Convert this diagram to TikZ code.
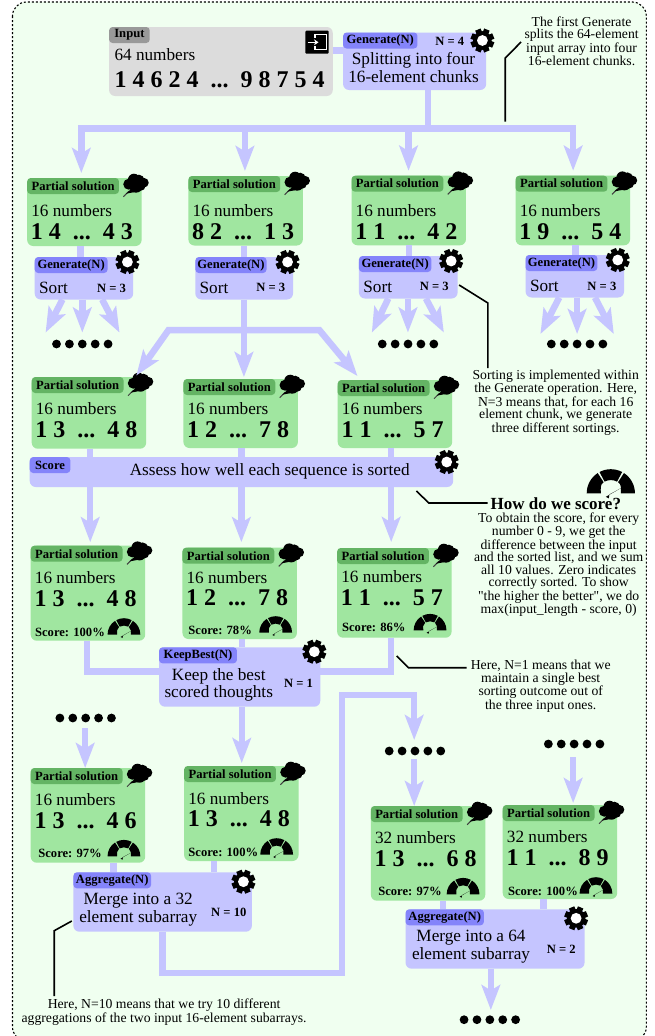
\documentclass[tikz,border=0pt]{standalone}
\usepackage{fontspec}
\setmainfont{Liberation Serif}[Ligatures=TeXOff]
\usetikzlibrary{arrows.meta,fit}
\definecolor{bgc}{HTML}{F0FFF0}
\definecolor{vio}{HTML}{C5C5FF}
\definecolor{viol}{HTML}{8484FA}
\definecolor{gre}{HTML}{A0E6A0}
\definecolor{grel}{HTML}{64B464}
\definecolor{gry}{HTML}{DCDCDC}
\definecolor{gryl}{HTML}{999999}
\tikzset{
  frame/.style={draw=black,fill=bgc,line width=1.1pt,dash pattern=on 2pt off 2pt,rounded corners=14pt},
  boxn/.style={inner sep=0pt,outer sep=0pt,rounded corners=6pt,draw=none},
  labn/.style={inner sep=0pt,outer sep=0pt,rounded corners=3.5pt,draw=none},
  tx/.style={inner sep=0pt,outer sep=0pt,text=black},
  mainf/.style={tx,font=\fontsize{17.2}{18}\selectfont},
  bigf/.style={tx,font=\fontsize{24}{24}\selectfont\bfseries},
  labf/.style={tx,font=\fontsize{12.6}{13}\selectfont\bfseries},
  notef/.style={tx,align=center,font=\fontsize{13.7}{12.45}\selectfont},
  link/.style={draw=vio,line width=6.5pt,line join=miter},
  arr/.style={link,-{Stealth[length=25pt,width=18.5pt,inset=5.5pt]}},
  arrb/.style={link,{Stealth[length=25pt,width=18.5pt,inset=5.5pt]}-{Stealth[length=25pt,width=18.5pt,inset=5.5pt]}},
  lead/.style={draw=black,line width=1.6pt,line join=miter},
  dotrow/.style={inner sep=0pt,outer sep=0pt,minimum width=60pt,minimum height=9pt}
}
\newcommand{\gearicon}[2]{%
  \begin{scope}[shift={(#1,#2)},x=1pt,y=1pt]
    \fill[black] (0,0) circle (9.3);
    \foreach \a in {0,45,...,315}{\fill[black,rotate=\a+22.5] (-2.9,7) rectangle (2.9,11.8);}
    \fill[white] (0,0) circle (5.4);
  \end{scope}}
\newcommand{\cloudicon}[2]{%
  \begin{scope}[shift={(#1,#2)},x=1pt,y=-1pt]
    \fill[black] (-7.2,1) circle (5.5) (-2,-3.5) circle (6) (3,-3) circle (5.5) (8,-0.5) circle (4.8)
      (0,2.5) circle (7) (5,3) circle (4.5);
    \draw[black!75,line width=1pt] (-7,8) -- (-12.5,13.5);
    \fill[black] (-5,6) -- (-10,10.5) -- (-2,9) -- cycle;
  \end{scope}}
\newcommand{\gaugeicon}[3]{%
  \begin{scope}[shift={(#1,#2)},x=1pt,y=1pt,scale=#3]
    \fill[black] (180:16.4) arc[start angle=180,end angle=123,radius=16.4pt] -- (123:9) .. controls (-7.5,6) and (-6.8,3) .. (-6.8,0) -- cycle;
    \fill[black] (118:16.4) arc[start angle=118,end angle=62,radius=16.4pt] -- (62:9) arc[start angle=62,end angle=118,radius=9pt] -- cycle;
    \fill[black] (57:16.4) arc[start angle=57,end angle=0,radius=16.4pt] -- (6.8,0) .. controls (6.8,3) and (7.5,6) .. (57:9) -- cycle;
    \fill[black] (-3.4,-2.4) -- (7,3.6) -- (-1,-0.8) -- (-1.4,-3.4) -- cycle;
  \end{scope}}
% name, x0, top, bottom, y count, y digits, count, left digits, right digits
\newcommand{\psol}[9]{%
  \begin{scope}[shift={(#2,0)}]
    \node[boxn,fill=gre,fit={(0,#3)(115.4,#4)}] (#1) {};
    \node[labn,fill=grel,fit={(0,#3)(92.6,#3)},minimum height=16pt,anchor=north west] (#1lab) at (0,#3) {};
    \node[labf] (#1labt) at (#1lab.center) {Partial solution};
    \node[mainf,anchor=west] (#1cnt) at (4.2,#5) {#7};
    \node[bigf,anchor=west] (#1dig) at (3.8,#6) {#8~~...~~#9};
  \end{scope}
  \cloudicon{#2+109.7}{#3+5.2}}
\newcommand{\scorerow}[5]{%
  \node[labf,anchor=west] (#1) at (#2,#3) {Score: #4};
  \gaugeicon{#5}{#3+2.6}{1}}
% name, x0, top, x1, bottom, label text, label x1, fill, label fill
\newcommand{\opbox}[9]{%
  \node[boxn,fill=#8,fit={(#2,#3)(#4,#5)}] (#1) {};
  \node[labn,fill=#9,minimum height=16pt,fit={(#2,#3)(#7,#3)},anchor=north west] (#1lab) at (#2,#3) {};
  \node[labf] (#1labt) at (#1lab.center) {#6};}
\newcommand{\fivedots}[4]{% name, centre x, y, step
  \node[dotrow] (#1) at (#2,#3) {};
  \foreach \k in {-2,-1,0,1,2}{\fill[black] (#2+\k*#4,#3) circle[radius=4.4pt];}}
\begin{document}
\begin{tikzpicture}[x=0.9916pt,y=-1pt]
\useasboundingbox (0pt,0pt) rectangle (654pt,-1036pt);
\fill[white] (0pt,0pt) rectangle (654pt,-1036pt);
\path[frame] (12.6,2) rectangle (651.8,1041);

% ---------- input and first generate
\opbox{inp}{110}{27}{335.6}{96}{Input}{151}{gry}{gryl}
\node[mainf,anchor=west] (inpc) at (115.5,55) {64 numbers};
\node[bigf,anchor=west] (inpd) at (115.5,80) {1 4 6 2 4~~...~~9 8 7 5 4};
\begin{scope}[x=1pt,y=-1pt]
  \fill[black,rounded corners=1pt] (305.3,30.7) rectangle (328.7,53.7);
  \draw[white,line width=1.5pt] (315,38) -- (315,34.6) -- (326.3,34.6) -- (326.3,49.3) -- (315,49.3) -- (315,46);
  \draw[white,line width=1.5pt,-{Stealth[length=4.5pt,width=6pt]}] (307.5,42.3) -- (318.5,42.3);
\end{scope}
\opbox{g0}{346}{32.5}{490.3}{90}{Generate(N)}{421}{vio}{viol}
\node[labf] (g0n) at (453.5,41.7) {N = 4};
\gearicon{486.5}{40.5}
\node[mainf] (g0a) at (417,60) {Splitting into four};
\node[mainf] (g0b) at (417,77) {16-element chunks};
\draw[link] (inp.east |- 0,50.7) coordinate (ie) -- (g0.west |- ie);

% ---------- row 1
\psol{p1}{27.4}{178}{246}{211}{232}{16 numbers}{1 4}{4 3}
\psol{p2}{190}{176}{245.5}{211}{232}{16 numbers}{8 2}{1 3}
\psol{p3}{354.5}{175.7}{245.3}{211}{231.5}{16 numbers}{1 1}{4 2}
\psol{p4}{520}{175.7}{245.3}{211}{231.5}{16 numbers}{1 9}{5 4}

\coordinate (t0) at (431.5,0);
\coordinate (busl) at (78.8,128.5);
\coordinate (busr) at (581,128.5);
\coordinate (b1) at (82,128.5);
\coordinate (b2) at (247,128.5);
\coordinate (b3) at (412,128.5);
\coordinate (b4) at (578,128.5);
\draw[link] (t0 |- g0.south) -- (t0 |- busl);
\draw[link] (busl) -- (busr);
\foreach \n/\e in {b1/p1,b2/p2,b3/p3,b4/p4}{\draw[arr,shorten >=5pt] (\n) -- (\n |- \e.north);}

% ---------- sort operations
\opbox{g1}{35}{257}{134.3}{299.5}{Generate(N)}{108.5}{vio}{viol}
\node[mainf,anchor=west] (g1s) at (39.5,288) {Sort};
\node[labf] (g1n) at (112.5,288.7) {N = 3};
\gearicon{128.5}{262}
\opbox{g2}{197}{257}{295.5}{299.5}{Generate(N)}{268.8}{vio}{viol}
\node[mainf,anchor=west] (g2s) at (201.3,288) {Sort};
\node[labf] (g2n) at (273,287) {N = 3};
\gearicon{290}{262}
\opbox{g3}{362}{256}{461.5}{298.5}{Generate(N)}{435}{vio}{viol}
\node[mainf,anchor=west] (g3s) at (366.5,287) {Sort};
\node[labf] (g3n) at (438,286) {N = 3};
\gearicon{455}{261}
\opbox{g4}{530}{255}{629.3}{297.5}{Generate(N)}{602.5}{vio}{viol}
\node[mainf,anchor=west] (g4s) at (534.5,286) {Sort};
\node[labf] (g4n) at (607,286.5) {N = 3};
\gearicon{623}{260}

\coordinate (c1) at (81.3,0);
\coordinate (c2) at (246,0);
\coordinate (c3) at (412.6,0);
\coordinate (c4) at (580.6,0);
\draw[link] (c1 |- p1.south) -- (c1 |- g1.north);
\draw[link] (c2 |- p2.south) -- (c2 |- g2.north);
\draw[link] (c3 |- p3.south) -- (c3 |- g3.north);
\draw[link] (c4 |- p4.south) -- (c4 |- g4.north);

\fivedots{d1}{83}{344}{13}
\fivedots{d3}{411.5}{344}{13}
\fivedots{d4}{582}{344}{13}
\coordinate (f1a) at (63,0); \coordinate (f1b) at (83,0); \coordinate (f1c) at (103,0);
\coordinate (f1ae) at (46,332.5); \coordinate (f1ce) at (120.5,332.5);
\draw[arr] (f1a |- g1.south) -- (f1ae);
\draw[arr] (f1b |- g1.south) -- (f1b |- f1ae);
\draw[arr] (f1c |- g1.south) -- (f1ce);
\coordinate (f3a) at (391.6,0); \coordinate (f3b) at (411.4,0); \coordinate (f3c) at (429.5,0);
\coordinate (f3ae) at (375,332.5); \coordinate (f3ce) at (447.6,332.5);
\draw[arr] (f3a |- g3.south) -- (f3ae);
\draw[arr] (f3b |- g3.south) -- (f3b |- f3ae);
\draw[arr] (f3c |- g3.south) -- (f3ce);
\coordinate (f4a) at (564,0); \coordinate (f4b) at (582,0); \coordinate (f4c) at (600,0);
\coordinate (f4ae) at (545,334); \coordinate (f4ce) at (619,334);
\draw[arr] (f4a |- g4.south) -- (f4ae);
\draw[arr] (f4b |- g4.south) -- (f4b |- f4ae);
\draw[arr] (f4c |- g4.south) -- (f4ce);

% ---------- row 2
\psol{p5}{32}{377}{448.7}{408.7}{430}{16 numbers}{1 3}{4 8}
\psol{p6}{185}{379}{448}{408.7}{430}{16 numbers}{1 2}{7 8}
\psol{p7}{340.6}{380}{448}{408.7}{429.5}{16 numbers}{1 1}{5 7}

\coordinate (k2) at (246,0);
\coordinate (forkl) at (170,330);
\coordinate (forkr) at (322,330);
\coordinate (forke) at (137.5,375.5);
\coordinate (forkf) at (360.5,376);
\draw[arr,shorten >=2pt] (k2 |- g2.south) -- (k2 |- p6.north);
\draw[arrb] (forke) -- (forkl) -- (forkr) -- (forkf);

% ---------- score
\opbox{sc}{30}{457}{457}{487}{Score}{71}{vio}{viol}
\node[mainf] (sct) at (272,471) {Assess how well each sequence is sorted};
\gearicon{450.5}{462}
\coordinate (s1) at (91,0); \coordinate (s2) at (243.4,0); \coordinate (s3) at (394.5,0);
\draw[link] (s1 |- p5.south) -- (s1 |- sc.north);
\draw[link] (s2 |- p6.south) -- (s2 |- sc.north);
\draw[link] (s3 |- p7.south) -- (s3 |- sc.north);

% ---------- row 3
\psol{p8}{31}{545.7}{640.7}{577.7}{599}{16 numbers}{1 3}{4 8}
\psol{p9}{184}{547.7}{639}{577.7}{598}{16 numbers}{1 2}{7 8}
\psol{p10}{340}{548}{637.7}{576.7}{598}{16 numbers}{1 1}{5 7}
\scorerow{p8s}{35.4}{632}{100\%}{125}
\scorerow{p9s}{190}{630}{78\%}{278}
\scorerow{p10s}{345}{627.7}{86\%}{433.7}
\draw[arr,shorten >=3.5pt] (s1 |- sc.south) -- (s1 |- p8.north);
\draw[arr,shorten >=5.5pt] (s2 |- sc.south) -- (s2 |- p9.north);
\draw[arr,shorten >=6pt] (s3 |- sc.south) -- (s3 |- p10.north);

% ---------- keep best
\opbox{kb}{160.4}{647.3}{323}{706.7}{KeepBest(N)}{239}{vio}{viol}
\node[mainf] (kba) at (220.6,676.7) {Keep the best};
\node[mainf] (kbb) at (220.6,693.5) {scored thoughts};
\node[labf] (kbn) at (301,683.7) {N = 1};
\gearicon{317}{651.7}
\coordinate (m1) at (87.6,671.7); \coordinate (m3) at (394.5,671.7); \coordinate (m2) at (243.8,0);
\draw[link] (m1 |- p8.south) -- (m1) -- (kb.west |- m1);
\draw[link] (m3 |- p10.south) -- (m3) -- (kb.east |- m3);
\draw[link] (m2 |- p9.south) -- (m2 |- kb.north);

% ---------- row 4
\psol{p11}{31}{768}{862.7}{800}{821}{16 numbers}{1 3}{4 6}
\psol{p12}{185.7}{766}{861}{799}{819}{16 numbers}{1 3}{4 8}
\scorerow{p11s}{38.7}{853.7}{97\%}{125}
\scorerow{p12s}{190}{852}{100\%}{279}
\fivedots{d5}{86.4}{718}{13}
\coordinate (a5) at (85.9,728);
\draw[arr] (a5) -- (a5 |- p11.north);
\draw[arr,shorten >=3pt] (m2 |- kb.south) -- (m2 |- p12.north);

\opbox{ag1}{74}{872.3}{254}{931.7}{Aggregate(N)}{152.4}{vio}{viol}
\node[mainf] (ag1a) at (139.4,900.7) {Merge into a 32};
\node[mainf] (ag1b) at (139.4,918.5) {element subarray};
\node[labf] (ag1n) at (230.7,912.7) {N = 10};
\gearicon{245.5}{881.7}
\coordinate (n1) at (114.5,0); \coordinate (n2) at (216,0);
\draw[link] (n1 |- p11.south) -- (n1 |- ag1.north);
\draw[link] (n2 |- p12.south) -- (n2 |- ag1.north);

% ---------- right column
\fivedots{d6}{418.5}{751}{13}
\fivedots{d7}{579}{744}{13}
\coordinate (l0) at (163.8,0);
\coordinate (l1) at (163.8,973);
\coordinate (l2) at (345,973);
\coordinate (l3) at (345,695);
\coordinate (l4) at (417.7,695);
\coordinate (l5) at (417.7,740);
\draw[arr] (l0 |- ag1.south) -- (l1) -- (l2) -- (l3) -- (l4) -- (l5);

\psol{p13}{374}{806}{900.7}{838}{859}{32 numbers}{1 3}{6 8}
\psol{p14}{507}{805}{899}{836.7}{857.7}{32 numbers}{1 1}{8 9}
\scorerow{p13s}{381.5}{891.7}{97\%}{467}
\scorerow{p14s}{512.4}{891}{100\%}{601}
\coordinate (a6) at (417.7,759); \coordinate (a7) at (578,757);
\draw[arr] (a6) -- (a6 |- p13.north);
\draw[arr,shorten >=2pt] (a7) -- (a7 |- p14.north);

\opbox{ag2}{409}{909.3}{589.5}{968.7}{Aggregate(N)}{488}{vio}{viol}
\node[mainf] (ag2a) at (475,937.7) {Merge into a 64};
\node[mainf] (ag2b) at (475,955.5) {element subarray};
\node[labf] (ag2n) at (566,949.7) {N = 2};
\gearicon{581}{918.3}
\coordinate (o1) at (447,0); \coordinate (o2) at (548,0); \coordinate (o3) at (495,0);
\draw[link] (o1 |- p13.south) -- (o1 |- ag2.north);
\draw[link] (o2 |- p14.south) -- (o2 |- ag2.north);
\fivedots{d8}{494}{1019.7}{13}
\coordinate (o4) at (495,1010);
\draw[arr] (o3 |- ag2.south) -- (o4);

% ---------- notes
\node[notef] (n0) at (586.5,41.4) {The first Generate\\splits the 64-element\\input array into four\\16-element chunks.};
\coordinate (n0a) at (525.5,42); \coordinate (n0b) at (509.5,58); \coordinate (n0c) at (509.5,121.7);
\draw[lead] (n0a) -- (n0b) -- (n0c);
\node[notef] (ns) at (560.4,402.4) {Sorting is implemented within\\the Generate operation. Here,\\N=3 means that, for each 16\\element chunk, we generate\\three different sortings.};
\coordinate (nsa) at (463,285); \coordinate (nsb) at (492,303);
\draw[lead] (nsa) -- (nsb) -- (nsb |- 0,368);
\node[tx,font=\fontsize{17}{18}\selectfont\bfseries] (how) at (560.5,503.7) {How do we score?};
\coordinate (hwa) at (420,491); \coordinate (hwb) at (432.4,503);
\draw[lead,shorten >=3pt] (hwa) -- (hwb) -- (hwb -| how.west);
\gaugeicon{616}{493.3}{1.47}
\node[notef] (np) at (563.4,564.5) {To obtain the score, for every\\number 0 - 9, we get the\\difference between the input\\and the sorted list, and we sum\\all 10 values. Zero indicates\\correctly sorted. To show\\"the higher the better", we do\\max(input\_length - score, 0)};
\node[notef] (nk) at (545.3,686.4) {Here, N=1 means that we\\maintain a single best\\sorting outcome out of\\the three input ones.};
\coordinate (nka) at (400,656); \coordinate (nkb) at (411.8,667.7); \coordinate (nkc) at (470.7,667.7);
\draw[lead] (nka) -- (nkb) -- (nkc);
\node[notef] (na) at (165.5,1012.4) {Here, N=10 means that we try 10 different\\aggregations of the two input 16-element subarrays.};
\coordinate (naa) at (72.4,921); \coordinate (nab) at (54.7,930.7); \coordinate (nac) at (54.7,996);
\draw[lead] (naa) -- (nab) -- (nac);
\end{tikzpicture}
\end{document}
